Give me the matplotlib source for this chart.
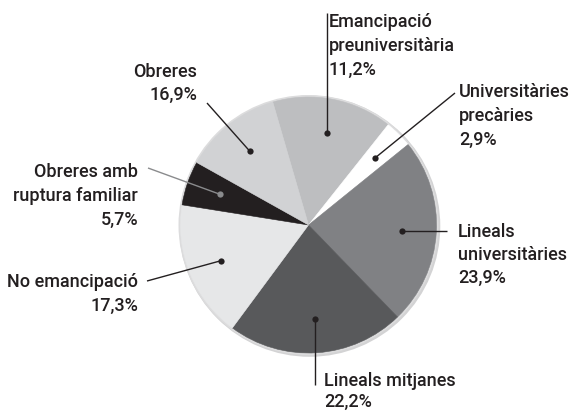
import numpy as np
import matplotlib
matplotlib.use("Agg")
import matplotlib.pyplot as plt
from matplotlib.patches import Circle

# categories, clockwise from the top
categories = ["Emancipació\npreuniversitària", "Universitàries\nprecàries",
              "Lineals\nuniversitàries", "Lineals mitjanes", "No emancipació",
              "Obreres amb\nruptura familiar", "Obreres"]
pct_labels = ["11,2%", "2,9%", "23,9%", "22,2%", "17,3%", "5,7%", "16,9%"]
# slice sizes as drawn in the picture (%)
slice_shares = [15.2, 3.5, 23.6, 22.4, 17.4, 5.6, 12.4]
colors = ["#bdbec0", "#ffffff", "#808184", "#58595b", "#e6e7e8", "#231f20", "#d1d2d4"]

W, H = 571, 412
TXT = "#231f20"
plt.rcParams['font.family'] = ['Roboto', 'DejaVu Sans']

fig = plt.figure(figsize=(W / 100, H / 100), dpi=100)
ax = fig.add_axes([0, 0, 1, 1])

cx, cy, R = 308.5, H - 225, 128

# grey rim with slight shadow towards bottom right
ax.add_patch(Circle((cx + 1.2, cy - 1.2), R + 2.6, color="#d3d3d4", lw=0, zorder=1))
ax.add_patch(Circle((cx, cy), R + 2.0, color="#dcdcdd", lw=0, zorder=1))

wedges, _ = ax.pie(slice_shares, colors=colors, startangle=106.2, counterclock=False,
                   center=(cx, cy), radius=R, frame=True,
                   wedgeprops=dict(linewidth=0.4, zorder=2))
for w, c in zip(wedges, colors):
    w.set_edgecolor(c)
ax.set_xlim(0, W)
ax.set_ylim(0, H)
ax.axis('off')

# label layout: (text x, first baseline y (image), align, leader end (image coords), line spacing)
layout = [
    (329, 27, 'left', ('v', 13), 24),
    (459, 97, 'left', (455, 93), 24),
    (458, 237, 'left', ('h', 447), 23),
    (324, 386, 'left', ('v', 385), 21),
    (138, 287, 'right', (147, 281), 24),
    (138, 177, 'right', (148, 168), 24),
    (197, 77, 'right', (207, 103), 23),
]

for i, w in enumerate(wedges):
    mid = np.deg2rad((w.theta1 + w.theta2) / 2)
    dx = cx + 0.735 * R * np.cos(mid)
    dy = cy + 0.735 * R * np.sin(mid)
    tx, ty, ha, end, step = layout[i]
    if end[0] == 'v':
        ex, ey = dx, H - end[1]
    elif end[0] == 'h':
        ex, ey = end[1], dy
    else:
        ex, ey = end[0], H - end[1]
    lc = "#8a8b8d" if colors[i] == "#231f20" else TXT
    ax.plot([dx, ex], [dy, ey], color=lc, lw=1.0, zorder=3, solid_capstyle='butt')
    ax.plot(dx, dy, 'o', color=lc, ms=4.5, mec='none', zorder=4)

    lines = categories[i].split("\n") + [pct_labels[i]]
    for k, s in enumerate(lines):
        ax.text(tx, H - (ty + k * step), s, ha=ha, va='baseline',
                fontsize=13, fontweight='medium', color=TXT, zorder=5)

fig.savefig("out.png", dpi=100, facecolor="white")
